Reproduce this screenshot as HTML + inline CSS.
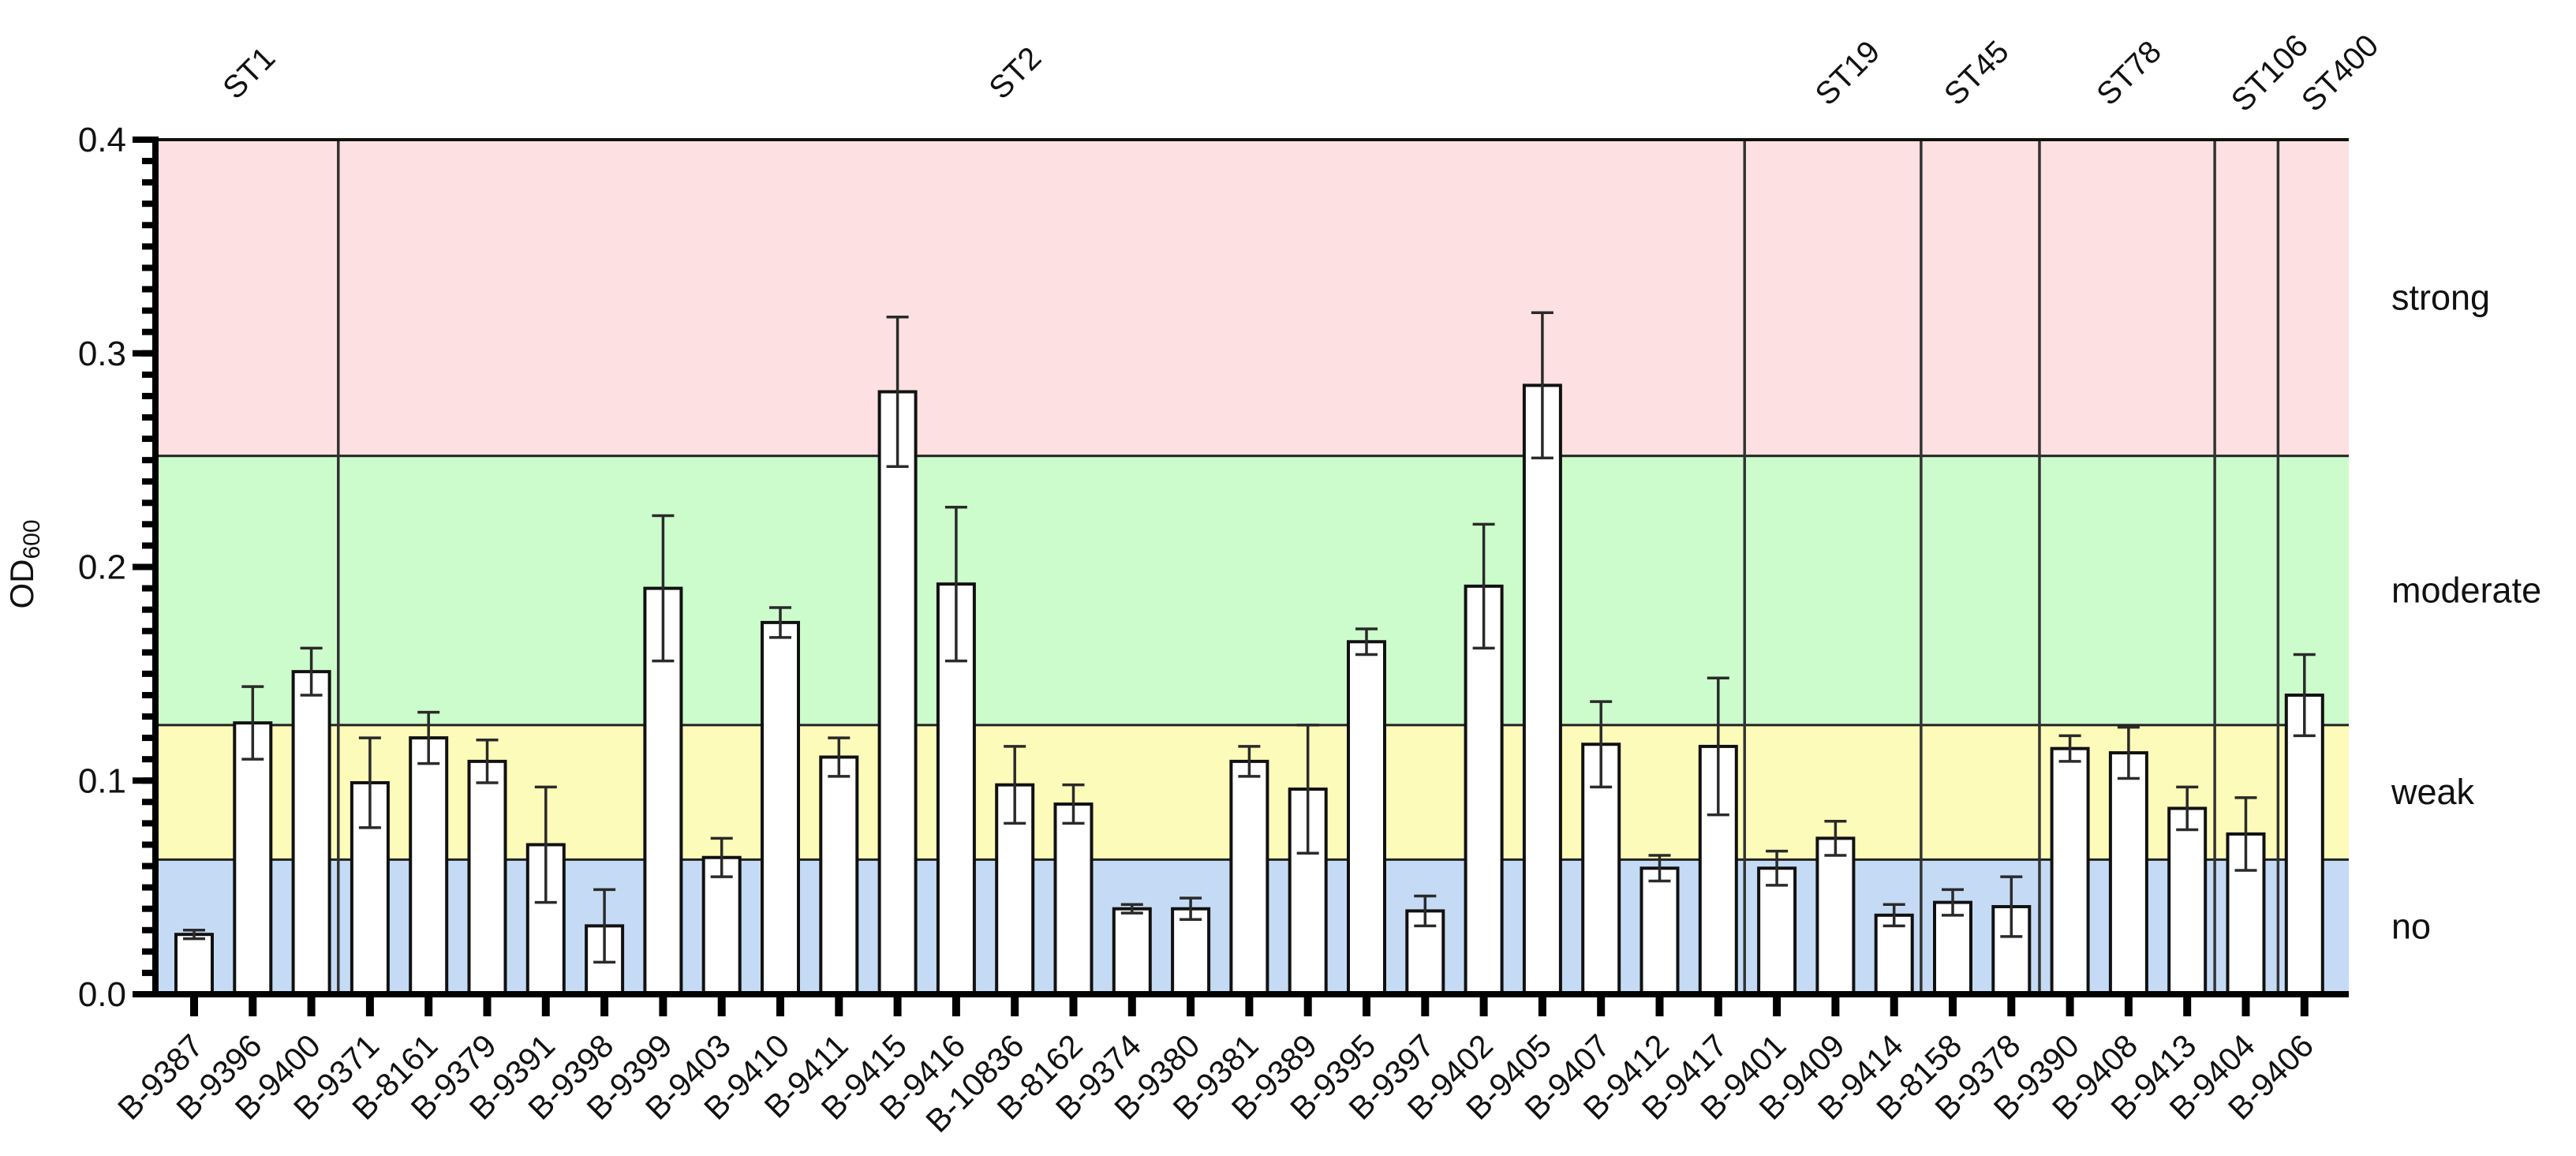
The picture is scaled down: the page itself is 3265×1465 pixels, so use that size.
<!DOCTYPE html>
<html><head><meta charset="utf-8"><style>
html,body{margin:0;padding:0;background:#fff;}
svg{display:block;font-family:"Liberation Sans",Arial,sans-serif;}
</style></head><body>
<svg id="chart" width="3265" height="1465" viewBox="0 0 3265 1465" xmlns="http://www.w3.org/2000/svg"></svg>
<script>
const categories=["B-9387","B-9396","B-9400","B-9371","B-8161","B-9379","B-9391","B-9398","B-9399","B-9403","B-9410","B-9411","B-9415","B-9416","B-10836","B-8162","B-9374","B-9380","B-9381","B-9389","B-9395","B-9397","B-9402","B-9405","B-9407","B-9412","B-9417","B-9401","B-9409","B-9414","B-8158","B-9378","B-9390","B-9408","B-9413","B-9404","B-9406"];
const means=[0.028,0.127,0.151,0.099,0.120,0.109,0.070,0.032,0.190,0.064,0.174,0.111,0.282,0.192,0.098,0.089,0.040,0.040,0.109,0.096,0.165,0.039,0.191,0.285,0.117,0.059,0.116,0.059,0.073,0.037,0.043,0.041,0.115,0.113,0.087,0.075,0.140];
const errors=[0.002,0.017,0.011,0.021,0.012,0.010,0.027,0.017,0.034,0.009,0.007,0.009,0.035,0.036,0.018,0.009,0.002,0.005,0.007,0.030,0.006,0.007,0.029,0.034,0.020,0.006,0.032,0.008,0.008,0.005,0.006,0.014,0.006,0.012,0.010,0.017,0.019];
const groupNames=["ST1","ST2","ST19","ST45","ST78","ST106","ST400"];
const groupLabelIndex=[0.93,14.0,28.2,30.4,33.0,35.4,36.6];
const groupDividers=[2.46,26.45,29.46,31.48,34.47,35.55];
const bandLimits=[0,0.063,0.126,0.252,0.4];
const bandNames=["no","weak","moderate","strong"];
const bandColors=["#c5dbf5","#fdfbb9","#ccfccc","#fde0e1"];
const yTicks=[0,0.1,0.2,0.3,0.4];
const yTickLabels=["0.0","0.1","0.2","0.3","0.4"];

const svg=document.getElementById('chart');
const NS="http://www.w3.org/2000/svg";
const L=197,R=2977,T=177,B=1260,x0=246,step=74.3,bw=46;
const x=i=>x0+i*step;
const y=v=>B-(v/0.4)*(B-T);
function mk(tag,attrs,parent){const e=document.createElementNS(NS,tag);for(const k in attrs)e.setAttribute(k,attrs[k]);(parent||svg).appendChild(e);return e;}

for(let i=0;i<bandNames.length;i++){
  const r=mk('rect',{x:L,y:y(bandLimits[i+1]),width:R-L,height:y(bandLimits[i])-y(bandLimits[i+1]),fill:bandColors[i]});
  
  
  if(i>0){const ln=mk('line',{x1:L,x2:R,y1:y(bandLimits[i]),y2:y(bandLimits[i]),stroke:'#222','stroke-width':3});
    
    }
  const t=mk('text',{x:3031,y:(y(bandLimits[i])+y(bandLimits[i+1]))/2+15,'font-size':45,fill:'#111'});
  t.textContent=bandNames[i];
  
  
}
groupDividers.forEach(d=>{
  const ln=mk('line',{x1:x(d),x2:x(d),y1:T,y2:B,stroke:'#333','stroke-width':3.5});
  
  
});
const tb=mk('line',{x1:L,x2:R,y1:T,y2:T,stroke:'#111','stroke-width':4});


groupNames.forEach((g,i)=>{
  const cx=x(groupLabelIndex[i]),cy=92;
  const t=mk('text',{x:cx,y:cy+14,'font-size':40,'text-anchor':'middle',fill:'#111',transform:`rotate(-45 ${cx} ${cy})`});
  t.textContent=g;
  
  
});
categories.forEach((c,i)=>{
  const cx=x(i),top=y(means[i]);
  const r=mk('rect',{x:cx-bw/2,y:top,width:bw,height:B-top,fill:'#fff',stroke:'#111','stroke-width':4});
  
  
  const e1=y(means[i]+errors[i]),e2=y(means[i]-errors[i]);
  const g=mk('g',{stroke:'#2a2a2a','stroke-width':3.5});
  
  
  mk('line',{x1:cx,x2:cx,y1:e1,y2:e2},g);
  mk('line',{x1:cx-14,x2:cx+14,y1:e1,y2:e1},g);
  mk('line',{x1:cx-14,x2:cx+14,y1:e2,y2:e2},g);
  const tk=mk('rect',{x:cx-5,y:B,width:10,height:28,fill:'#000'});
  
  
  const lx=cx+14,ly=1328;
  const t=mk('text',{x:lx,y:ly,'font-size':41,'text-anchor':'end',fill:'#111',transform:`rotate(-45 ${lx} ${ly})`});
  t.textContent=c;
  
  
});
for(let k=0;k<=40;k++){
  const v=k*0.01;
  const mt=mk('rect',{x:180,y:y(v)-4,width:18,height:8,fill:'#000'});
  
  
}
yTicks.forEach((v,i)=>{
  const mj=mk('rect',{x:168,y:y(v)-4,width:30,height:8,fill:'#000'});
  
  
  const t=mk('text',{x:160,y:y(v)+15,'font-size':44,'text-anchor':'end',fill:'#111'});
  t.textContent=yTickLabels[i];
  
  
});
const ya=mk('rect',{x:193,y:T-4,width:8,height:B-T+8,fill:'#000'});


const xa=mk('rect',{x:193,y:B-4,width:R-193,height:8,fill:'#000'});


const yt=mk('text',{x:56,y:729,'font-size':42,'text-anchor':'middle',fill:'#111',transform:'rotate(-90 42 729)'});


yt.appendChild(document.createTextNode('OD'));
const sub=mk('tspan',{'font-size':30,dy:8},yt);
sub.textContent='600';
</script>
</body></html>
